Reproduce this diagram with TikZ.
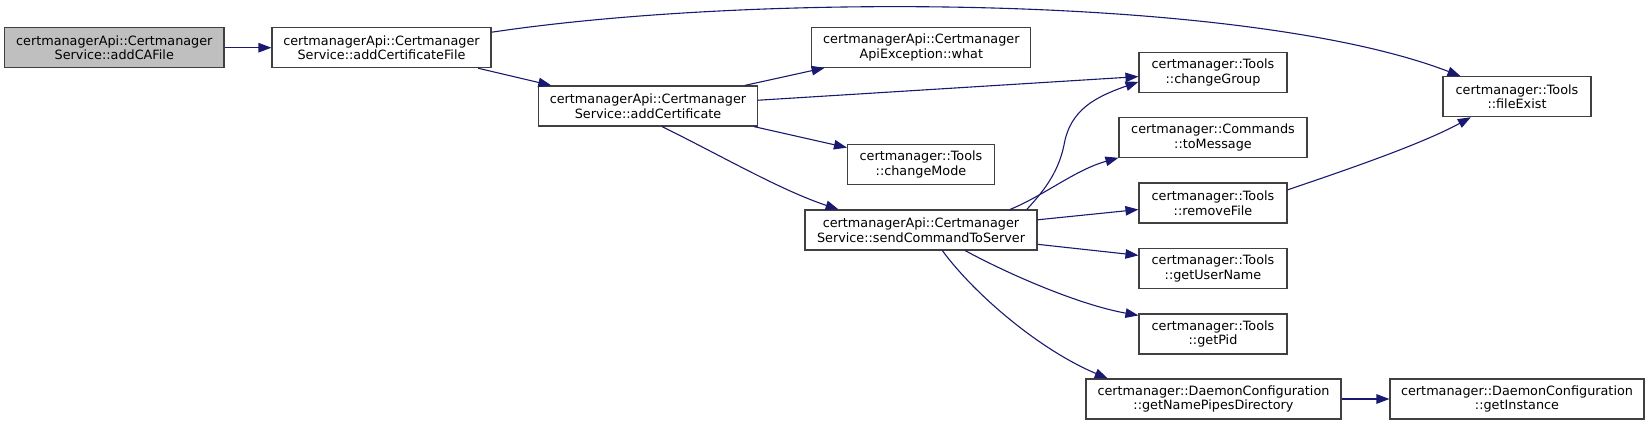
\documentclass[tikz,border=0pt]{standalone}
\usepackage{fontspec}
\setmainfont{DejaVu Sans}
\usepackage{tikz}
\usetikzlibrary{arrows.meta}
\definecolor{callblue}{RGB}{25,25,112}
\definecolor{rootgray}{RGB}{191,191,191}
\definecolor{framegray}{RGB}{64,64,64}

\begin{document}
\begin{tikzpicture}[x=1pt, y=-1pt,
    every node/.style={font=\fontsize{12.8}{14.5}\selectfont},
    fn/.style={draw=framegray, line width=1.1pt, fill=white, rectangle, inner sep=0pt, minimum height=40pt, align=center},
    call/.style={draw=callblue, line width=1.1pt, -{Triangle[length=13pt, width=9.5pt]}}]
            \useasboundingbox (0,0) rectangle (1651,425);

            % Caller
            \node[fn, fill=rootgray, minimum width=219.3pt] (addCA) at (114.3,47.7) {certmanagerApi::Certmanager\\Service::addCAFile};

            % Service methods
            \node[fn, minimum width=219pt] (addCertFile) at (381.5,47.7) {certmanagerApi::Certmanager\\Service::addCertificateFile};
            \node[fn, minimum width=218.6pt] (addCert) at (648,106) {certmanagerApi::Certmanager\\Service::addCertificate};
            \node[fn, minimum width=219pt] (apiWhat) at (921.3,47.3) {certmanagerApi::Certmanager\\ApiException::what};
            \node[fn, minimum width=147pt] (changeMode) at (921,164.7) {certmanager::Tools\\::changeMode};
            \node[fn, minimum width=232pt] (sendCmd) at (921,230) {certmanagerApi::Certmanager\\Service::sendCommandToServer};

            % Tools column
            \node[fn, minimum width=148pt] (changeGroup) at (1213,72.7) {certmanager::Tools\\::changeGroup};
            \node[fn, minimum width=188pt] (toMessage) at (1213,137.7) {certmanager::Commands\\::toMessage};
            \node[fn, minimum width=148pt] (removeFile) at (1213,203) {certmanager::Tools\\::removeFile};
            \node[fn, minimum width=148pt] (getUserName) at (1213,268.5) {certmanager::Tools\\::getUserName};
            \node[fn, minimum width=148pt] (getPid) at (1213,334) {certmanager::Tools\\::getPid};
            \node[fn, minimum width=255pt] (getPipesDir) at (1213.5,399) {certmanager::DaemonConfiguration\\::getNamePipesDirectory};

            % Right column
            \node[fn, minimum width=148pt] (fileExist) at (1517,96.7) {certmanager::Tools\\::fileExist};
            \node[fn, minimum width=254pt] (getInstance) at (1517,399) {certmanager::DaemonConfiguration\\::getInstance};

            % Arrows
            \draw[call] (addCA.east) -- (addCertFile.west);
            \draw[call] (addCertFile.8) .. controls (760,-8) and (1250,-5) .. (fileExist.160);
            \draw[call] (addCertFile.-12.3) -- (addCert.168.5);
            \draw[call] (addCert.12) -- (apiWhat.192);
            \draw[call] (addCert.3.5) -- (changeGroup.183.9);
            \draw[call] (addCert.-11.7) -- (changeMode.167.9);
            \draw[call] (addCert.-56.3) .. controls (720,155) and (780,190) .. (sendCmd.166.6);
            \draw[call] (sendCmd.11.5) .. controls (1040,195) and (1058,175) .. (1064,145) .. controls (1070,110) and (1095,97) .. (changeGroup.187.9);
            \draw[call] (sendCmd.13.5) .. controls (1045,195) and (1075,170) .. (toMessage.192.7);
            \draw[call] (sendCmd.5.4) -- (removeFile.185.5);
            \draw[call] (sendCmd.-7.7) -- (getUserName.170.8);
            \draw[call] (sendCmd.-25.5) .. controls (1010,275) and (1080,305) .. (getPid.166.8);
            \draw[call] (sendCmd.-44) .. controls (975,295) and (1040,350) .. (getPipesDir.169.2);
            \draw[call] (removeFile.10) .. controls (1340,172) and (1420,145) .. (fileExist.204.4);
            \draw[call] (getPipesDir.east) -- (getInstance.west);
        \end{tikzpicture}
\end{document}
